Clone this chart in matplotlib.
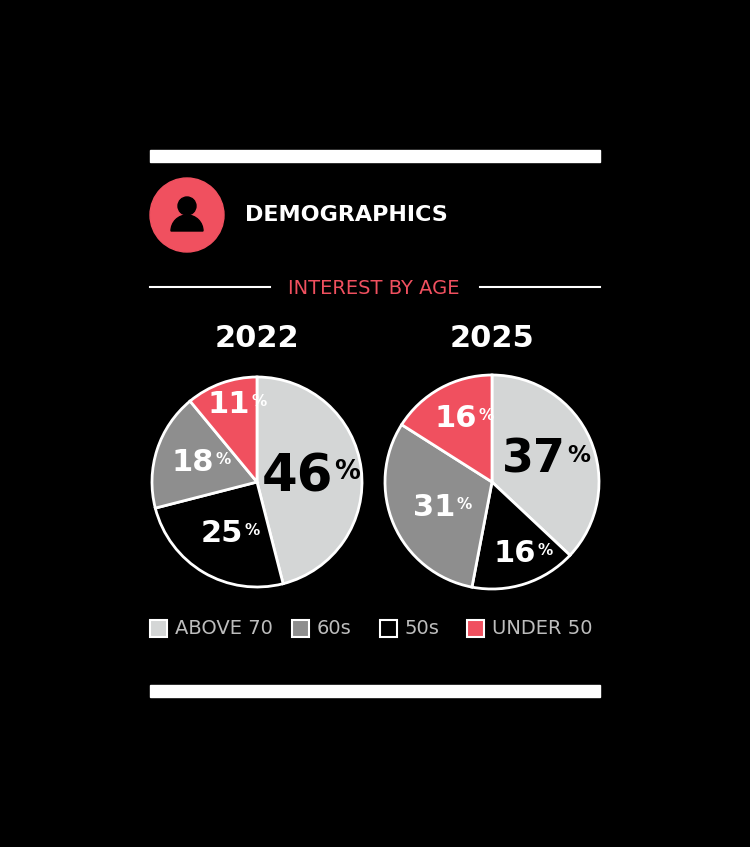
import matplotlib
matplotlib.use("Agg")
import matplotlib.pyplot as plt
from matplotlib.patches import Rectangle, Circle, Wedge

years = ["2022", "2025"]
categories = ["ABOVE 70", "50s", "60s", "UNDER 50"]
values_2022 = [46, 25, 18, 11]
values_2025 = [37, 16, 31, 16]
legend_order = ["ABOVE 70", "60s", "50s", "UNDER 50"]

RED = "#f0505f"
colors = {"ABOVE 70": "#d4d6d6", "60s": "#8e8e8e", "50s": "#000000", "UNDER 50": RED}
txtcol = {"ABOVE 70": "black", "60s": "white", "50s": "white", "UNDER 50": "white"}
FONT = ["Liberation Sans Narrow", "DejaVu Sans"]

W, H = 750, 847
fig = plt.figure(figsize=(7.5, 8.47), dpi=100, facecolor="black")
ax = fig.add_axes([0, 0, 1, 1])
ax.set_xlim(0, W); ax.set_ylim(0, H); ax.axis("off"); ax.set_facecolor("black")
Y = lambda y: H - y

ax.add_patch(Rectangle((150, Y(162)), 450, 12, color="white"))
ax.add_patch(Rectangle((150, Y(697)), 450, 12, color="white"))
ax.add_patch(Circle((187, Y(215)), 37, color=RED))
ax.add_patch(Circle((187, Y(206)), 9, color="black"))
ax.add_patch(Wedge((187, Y(231)), 16, 0, 180, color="black"))
ax.text(245, Y(215), "DEMOGRAPHICS", color="white", fontsize=16, fontweight="bold",
        va="center", ha="left", family="DejaVu Sans")
ax.text(374, Y(288), "INTEREST BY AGE", color=RED, fontsize=14, va="center", ha="center", family=FONT)
ax.plot([150, 270], [Y(287)] * 2, color="white", lw=1.5)
ax.plot([480, 600], [Y(287)] * 2, color="white", lw=1.5)

centers = [(257, 482, 105), (492, 482, 107)]
allvals = [values_2022, values_2025]
labelpos = [[(297, 477, 37), (222, 533, 22), (193, 462, 22), (229, 404, 22)],
            [(534, 460, 33), (515, 553, 22), (434, 507, 22), (456, 418, 22)]]
fig.canvas.draw()
r = fig.canvas.get_renderer()
for yr, (cx, cy, rad), vals, lp in zip(years, centers, allvals, labelpos):
    ax.text(cx, Y(338), yr, color="white", fontsize=22, fontweight="heavy", ha="center",
            va="center", family="DejaVu Sans")
    ax.pie(vals, colors=[colors[c] for c in categories], startangle=90, counterclock=False,
           center=(cx, Y(cy)), radius=rad, frame=True,
           wedgeprops=dict(edgecolor="white", linewidth=2))
    for c, v, (lx, ly, fs) in zip(categories, vals, lp):
        t = ax.text(lx, Y(ly), str(v), color=txtcol[c], fontsize=fs, fontweight="bold",
                    ha="center", va="center", family=FONT)
        bb = t.get_window_extent(r)
        inv = ax.transData.inverted()
        x1, y1 = inv.transform((bb.x1, bb.y1))
        ax.text(x1 + 1, y1 - fs * 0.2, "%", color=txtcol[c], fontsize=fs * 0.5,
                fontweight="bold", ha="left", va="top", family=FONT)
ax.set_xlim(0, W); ax.set_ylim(0, H); ax.set_aspect("auto"); ax.axis("off")

lx = [150, 292, 380, 467]
for x, c in zip(lx, legend_order):
    ax.add_patch(Rectangle((x, Y(637)), 17, 17, facecolor=colors[c], edgecolor="white", lw=1.5))
    ax.text(x + 25, Y(628), c, color="#bdbdbd", fontsize=14, va="center", ha="left", family=FONT)

fig.savefig("out.png", dpi=100, facecolor="black")
